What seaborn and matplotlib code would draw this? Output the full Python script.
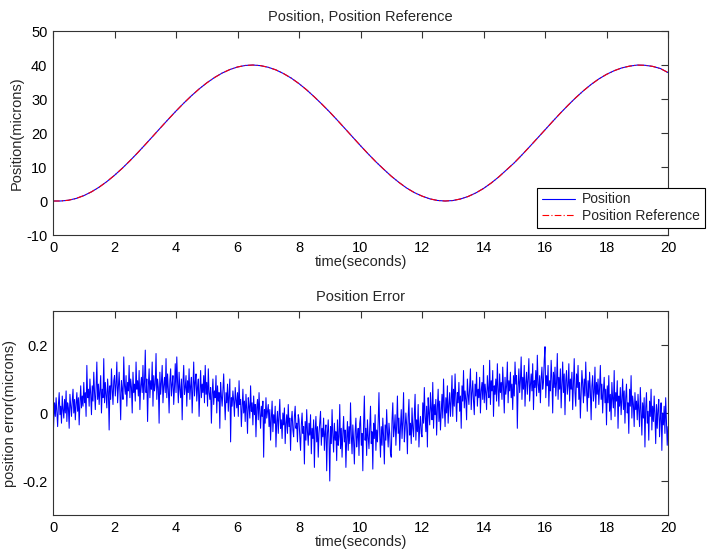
import numpy as np
import pandas as pd
import matplotlib
matplotlib.use("Agg")
import matplotlib.pyplot as plt
from matplotlib.lines import Line2D
import seaborn as sns

# Position trajectory (microns), sampled every 0.25 s from 0 to 20 s
pos_time = np.arange(81) * 0.25
position = [
    0.000, 0.006, 0.225, 0.751, 1.579, 2.694, 4.078, 5.712, 7.568, 9.617,
    11.830, 14.166, 16.601, 19.084, 21.582, 24.054, 26.466, 28.775, 30.947, 32.953,
    34.748, 36.312, 37.632, 38.666, 39.419, 39.870, 39.999, 39.816, 39.336, 38.561,
    37.466, 36.135, 34.519, 32.677, 30.611, 28.433, 26.147, 23.738, 21.254, 18.754,
    16.270, 13.852, 11.533, 9.380, 7.306, 5.474, 3.817, 2.479, 1.450, 0.642,
    0.163, 0.001, 0.136, 0.597, 1.334, 2.372, 3.690, 5.290, 7.119, 9.169,
    11.229, 13.560, 15.978, 18.445, 20.928, 23.414, 25.841, 28.173, 30.386, 32.436,
    34.287, 35.906, 37.246, 38.332, 39.160, 39.676, 39.986, 39.922, 39.601, 38.974,
    37.784,
]
position_reference = list(position)

# Tracking error in thousandths of a micron, sampled every 0.025 s
error_milli = [
    -85, -20, 30, -10, 45, 5, -40, 25, 60, -5, 20, -30, 50, 10, -15, 40, 0, 65, -25, 30,
    15, -45, 55, 20, -10, 35, 70, 0, 40, -20, 25, 60, 5, 45, -35, 30, 80, 15, 50, 20,
    90, 30, 60, -10, 140, 45, 70, 20, 100, 55, -5, 80, 35, 120, 60, 10, 75, 150, 40, 85,
    25, 65, 110, 0, 70, 45, 160, 30, 90, 55, 15, 100, 60, -50, 80, 40, 130, 70, 25, 95,
    110, 50, 85, 150, 30, 75, 120, 60, -20, 95, 70, 40, 165, 80, 55, 110, 20, 90, 65, 140,
    45, 100, 75, 0, 120, 60, 85, 35, 150, 70, 95, 50, 125, 10, 80, 105, 60, 140, 40, 90,
    185, 60, 100, -25, 80, 130, 45, 95, 70, 150, 20, 110, 65, 85, 175, 40, 100, 75, -30, 120,
    55, 90, 140, 30, 80, 105, 60, 160, 45, 115, 70, 0, 95, 130, 50, 85, 110, 25, 75, 145,
    60, 165, 90, 30, 120, 70, 45, 100, -20, 85, 140, 55, 75, 110, 20, 95, 60, 130, 40, 80,
    105, 0, 70, 150, 50, 90, 115, 35, 75, 100, -10, 65, 125, 45, 85, 60, 110, 30, 140, 55,
    90, 20, 130, 60, 40, 75, -30, 55, 100, 25, 65, 45, 110, 0, 80, 35, 60, -45, 90, 50,
    20, 70, 115, 40, -20, 60, 30, 85, 5, 50, 100, -85, 45, 20, 65, 35, -10, 75, 40, 15,
    60, -10, 95, 25, 40, -40, 15, 70, 0, 35, -25, 55, 10, -60, 45, 20, -15, 80, 5, 30,
    -35, 50, -5, 25, -70, 15, 40, -20, 60, 0, -45, 20, -10, 35, -130, 10, -30, 45, -15, 5,
    25, -40, 10, -80, -15, 35, -55, -5, -30, 20, -100, -25, 5, -60, -10, 40, -45, -20, -75, 0,
    -35, 15, -90, -30, -5, -60, 25, -40, -15, -110, -25, 5, -50, -70, -10, 20, -45, -30, -85, -5,
    -20, -70, -110, -35, 0, -60, -40, -150, -25, -80, 10, -55, -95, -30, -65, -5, -120, -45, -75, -20,
    -160, -50, -10, -85, -40, -130, -60, -25, 5, -95, -45, -70, -15, -110, -55, -35, -170, -60, -20, -80,
    -200, -40, -90, 10, -65, -115, -30, -80, -55, -140, -20, -95, -70, 25, -105, -45, -130, -60, -10, -85,
    -50, -160, -75, -25, -110, -40, -90, 30, -65, -120, -35, -80, -150, -55, -15, -100, -70, -45, -125, -30,
    -10, -95, -60, -170, -35, 50, -80, -45, -125, -20, -70, -105, -40, 20, -90, -55, -165, -30, -75, -5,
    -110, -50, -85, -25, 60, -65, -130, -40, -95, -15, -70, -150, -35, -80, 10, -55, -100, -30, -60, -120,
    -130, -20, 30, -70, -45, -5, -95, -35, 50, -60, -15, -110, -40, 10, -75, -25, 60, -85, -50, 0,
    -35, -120, -10, 40, -65, -30, -90, 15, -45, -70, -5, 55, -80, -20, -55, 25, -100, -40, -10, -60,
    -70, 30, -30, 75, -10, -55, 20, -100, 45, 0, -35, 60, 10, -20, 90, -45, 25, -5, 40, -65,
    15, 70, -25, 35, -50, 5, 55, -15, 100, 20, -40, 45, 0, 80, -30, 25, 60, -10, 35, 110,
    -10, 70, 20, 115, 45, -25, 60, 30, 90, 5, 50, -45, 80, 35, 125, 15, 65, 40, -20, 100,
    55, 25, 75, 130, 10, 60, 95, 35, -5, 85, 50, 120, 20, 70, 45, 105, 0, 65, 90, 40,
    140, 30, 85, 60, 10, 110, 70, 45, 155, 25, 95, 65, 125, -10, 80, 55, 100, 35, 145, 70,
    20, 115, 60, 90, 40, 135, 75, 0, 105, 55, 80, 150, 30, 95, 65, 120, 45, 85, 10, 110,
    50, 150, 85, 110, -45, 75, 130, 60, 95, 165, 40, 105, 70, 140, 20, 90, 120, 55, 100, 160,
    35, 80, 115, 65, 145, 10, 95, 75, 125, 50, 170, 85, 60, 110, 30, 100, 135, 70, 90, 155,
    195, 45, 110, 80, 140, 20, 95, 65, 155, 100, 0, 120, 75, 135, 50, 90, 175, 40, 105, 70,
    130, 15, 85, 150, 60, 115, -5, 95, 125, 55, 80, 145, 35, 100, 70, 120, 10, 90, 160, 60,
    20, 115, 75, 140, 40, 90, -15, 60, 125, 85, 30, 100, 50, 150, 70, 5, 95, 45, 120, 65,
    -20, 80, 110, 35, 60, 135, 15, 90, 55, 100, 25, 75, 140, 40, 85, 0, 65, 105, 30, 70,
    -35, 80, 30, 110, 5, 55, -20, 90, 40, 15, 125, -10, 60, 35, 95, -45, 50, 20, 75, -5,
    40, 100, 10, 65, -30, 45, 85, 0, 30, -60, 70, 20, 110, -15, 50, 25, -40, 60, 10, 35,
    -20, 55, 10, -40, 75, 0, -65, 30, -15, 45, -100, 15, 60, -30, 5, -80, 35, -10, 70, -50,
    20, -25, 50, -5, -90, 25, -45, 10, 40, -70, -15, 30, -110, 0, -35, 20, -60, 45, -25, -95,
    -40,
]
position_error = np.array(error_milli) / 1000.0
err_time = np.linspace(0, 20, len(error_milli))

x_ticks = list(range(0, 21, 2))
top_yticks = [-10, 0, 10, 20, 30, 40, 50]
bottom_yticks = [-0.2, 0, 0.2]
bottom_yticklabels = ["-0.2", "0", "0.2"]

sns.set_style("white")
plt.rcParams["font.family"] = ["Liberation Sans", "DejaVu Sans"]
plt.rcParams["axes.unicode_minus"] = False

fig = plt.figure(figsize=(7.08, 5.54), dpi=100)
ax1 = fig.add_axes([0.0749, 0.5758, 0.8686, 0.3682])
ax2 = fig.add_axes([0.0749, 0.0704, 0.8686, 0.3682])

df_pos = pd.DataFrame({"t": pos_time, "pos": position, "ref": position_reference})
df_err = pd.DataFrame({"t": err_time, "err": position_error})

dashdot = (0, (6, 2, 1, 2))
sns.lineplot(data=df_pos, x="t", y="pos", ax=ax1, color="blue", lw=0.8,
             estimator=None, sort=False)
sns.lineplot(data=df_pos, x="t", y="ref", ax=ax1, color="red", lw=0.8,
             estimator=None, sort=False, linestyle=dashdot)
sns.lineplot(data=df_err, x="t", y="err", ax=ax2, color="blue", lw=0.75,
             estimator=None, sort=False)

for ax in (ax1, ax2):
    ax.set_xlim(0, 20)
    ax.set_xticks(x_ticks)
    ax.set_xticklabels([str(v) for v in x_ticks])
    ax.tick_params(direction="in", top=True, right=True, length=5, width=0.8,
                   labelsize=10.5, colors="#333333", labelcolor="black", pad=4)
    for sp in ax.spines.values():
        sp.set_visible(True)
        sp.set_color("#333333")
        sp.set_linewidth(0.8)
    ax.set_xlabel("time(seconds)", fontsize=10.5, labelpad=0)

ax1.set_ylim(-10, 50)
ax1.set_yticks(top_yticks)
ax1.set_yticklabels([str(v) for v in top_yticks])
ax1.set_ylabel("Position(microns)", fontsize=10.5, labelpad=2)
ax1.set_title("Position, Position Reference", fontsize=10.5, pad=7)

ax2.set_ylim(-0.3, 0.3)
ax2.set_yticks(bottom_yticks)
ax2.set_yticklabels(bottom_yticklabels)
ax2.set_ylabel("position error(microns)", fontsize=10.5, labelpad=4)
ax2.set_title("Position Error", fontsize=10.5, pad=7)

handles = [
    Line2D([], [], color="blue", lw=0.8),
    Line2D([], [], color="red", lw=0.8, linestyle=dashdot),
]
leg = fig.legend(handles, ["Position", "Position Reference"],
                 loc="lower left", bbox_to_anchor=(0.7585, 0.5884),
                 fontsize=10, frameon=True, fancybox=False, framealpha=1,
                 handlelength=2.4, handletextpad=0.5, borderpad=0.35,
                 borderaxespad=0, labelspacing=0.2)
leg.get_frame().set_edgecolor("black")
leg.get_frame().set_linewidth(0.8)

fig.savefig("out.png", dpi=100)
